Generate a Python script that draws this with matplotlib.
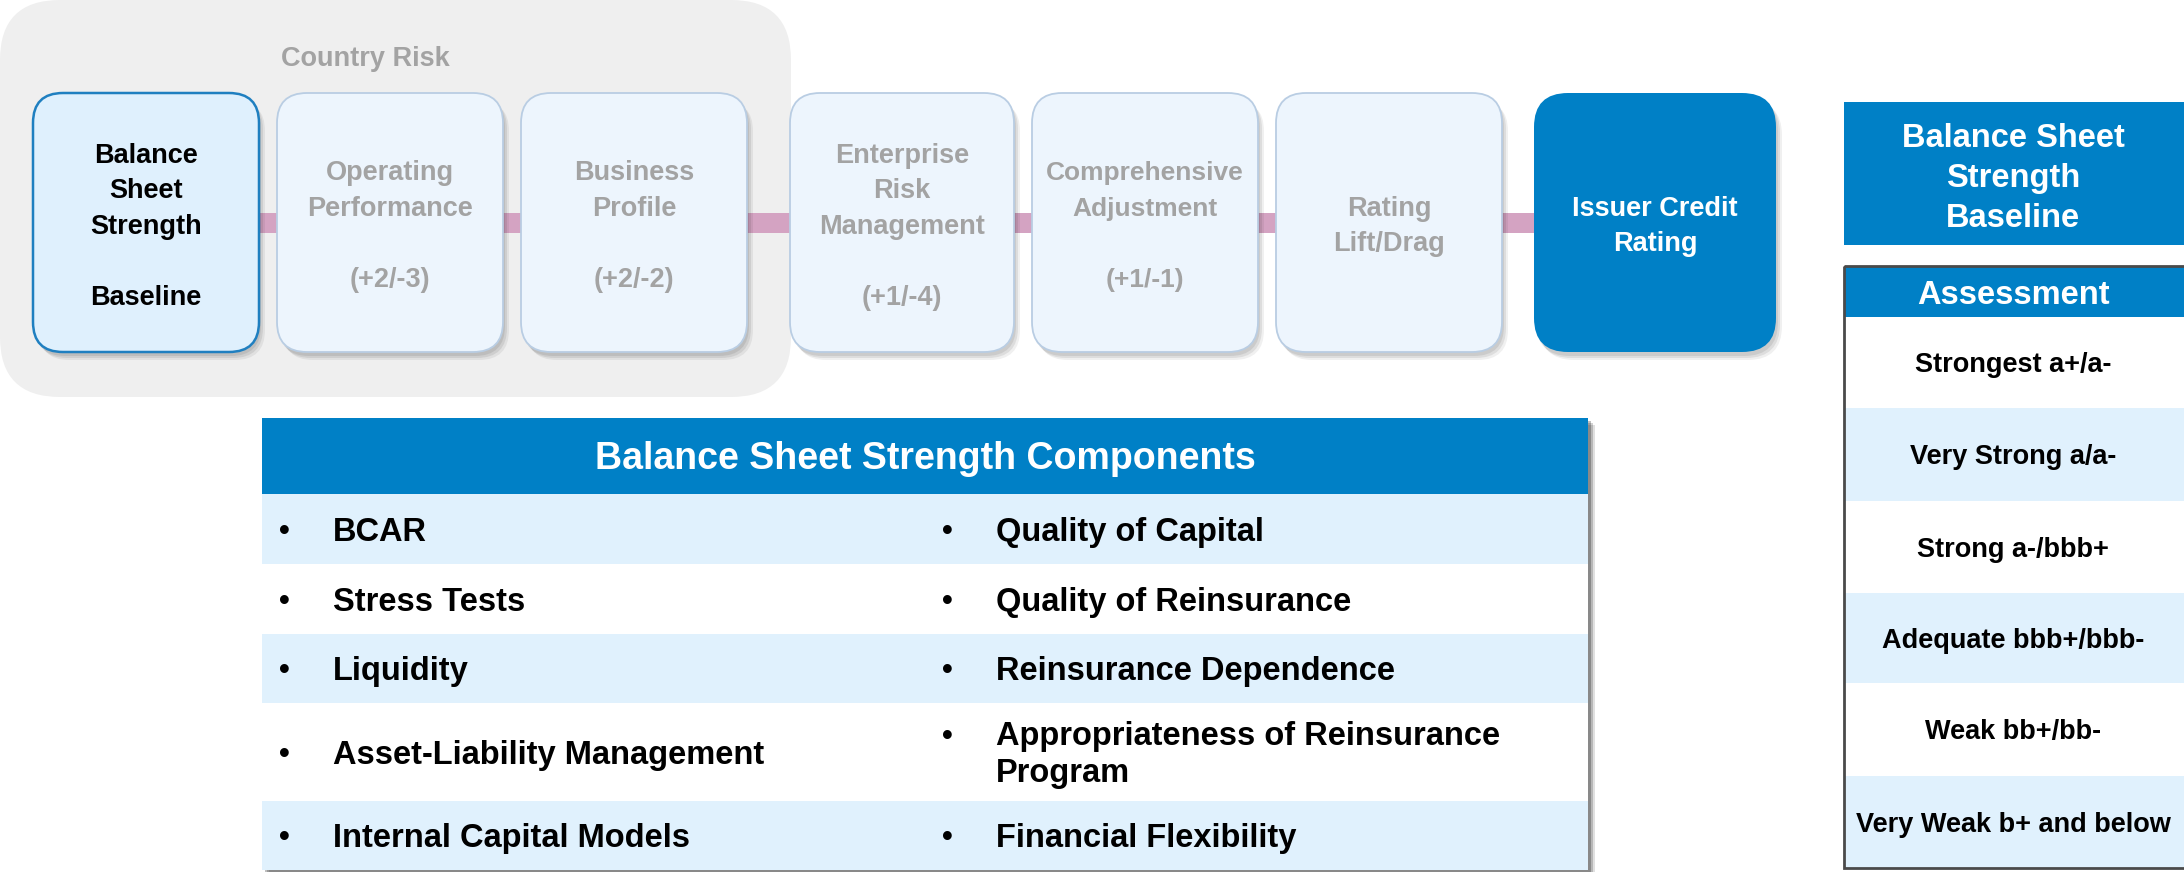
import matplotlib
matplotlib.use('Agg')
import matplotlib.pyplot as plt
from matplotlib.patches import FancyBboxPatch, Rectangle

# ---------------- data (texts) ----------------
country_risk_label = "Country Risk"
step_names = ["Balance\nSheet\nStrength", "Operating\nPerformance", "Business\nProfile",
              "Enterprise\nRisk\nManagement", "Comprehensive\nAdjustment", "Rating\nLift/Drag",
              "Issuer Credit\nRating"]
step_ranges = ["Baseline", "(+2/-3)", "(+2/-2)", "(+1/-4)", "(+1/-1)", "", ""]
components_title = "Balance Sheet Strength Components"
components_left = ["BCAR", "Stress Tests", "Liquidity", "Asset-Liability Management",
                   "Internal Capital Models"]
components_right = ["Quality of Capital", "Quality of Reinsurance", "Reinsurance Dependence",
                    "Appropriateness of Reinsurance\nProgram", "Financial Flexibility"]
baseline_title = "Balance Sheet\nStrength\nBaseline"
assessment_title = "Assessment"
assessment_labels = ["Strongest a+/a-", "Very Strong a/a-", "Strong a-/bbb+",
                     "Adequate bbb+/bbb-", "Weak bb+/bb-", "Very Weak b+ and below"]

# ---------------- style ----------------
FAM = ['Liberation Sans', 'DejaVu Sans']
BG_GRAY = '#efefef'
LIGHT_FILL = '#edf5fd'
LIGHT_EDGE = '#b9cde3'
B1_FILL = '#dff0fd'
B1_EDGE = '#1f7fc0'
DARK_BLUE = '#0080c6'
PINK = '#d4a3c2'
GRAY_TXT = '#a3a3a3'
ROW_BLUE = '#e0f1fd'

W, H = 2184, 872
fig = plt.figure(figsize=(W / 100, H / 100), dpi=100)
ax = fig.add_axes([0, 0, 1, 1])
ax.set_xlim(0, W)
ax.set_ylim(H, 0)
ax.axis('off')


def cap_px(size):
    return 0.716 * size * 100 / 72


def lines_text(lines, cx, cy, size, color, spacing, ha='center', z=10):
    n = len(lines)
    for i, ln in enumerate(lines):
        y = cy + (i - (n - 1) / 2) * spacing
        ax.text(cx, y + cap_px(size) / 2, ln, ha=ha, va='baseline', fontsize=size,
                color=color, family=FAM, weight='bold', zorder=z)


def rbox(x0, y0, w, h, r, fc, ec='none', lw=0, z=2, shadow=True):
    if shadow:
        for off, a in ((6, 0.06), (4, 0.08), (2, 0.08)):
            ax.add_patch(FancyBboxPatch((x0 + off, y0 + off + 2), w, h,
                                        boxstyle=f"round,pad=0,rounding_size={r}",
                                        fc='black', ec='none', alpha=a, zorder=z - 0.5))
    ax.add_patch(FancyBboxPatch((x0, y0), w, h, boxstyle=f"round,pad=0,rounding_size={r}",
                                fc=fc, ec=ec, lw=lw, zorder=z))


# ---------------- top flow ----------------
ax.add_patch(FancyBboxPatch((0, 0), 791, 397, boxstyle="round,pad=0,rounding_size=60",
                            fc=BG_GRAY, ec='none', zorder=0))
lines_text([country_risk_label], 365, 56, 19.5, GRAY_TXT, 0)

box_x = [33, 277, 521, 790, 1032, 1276, 1534]
box_w = [226, 226, 226, 224, 226, 226, 242]
box_top, box_h = 93, 259
mid_y = 224

ax.plot([box_x[0] + 100, box_x[-1] + 100], [223, 223], color=PINK, lw=20 * 0.72,
        solid_capstyle='butt', zorder=1)

for i, (name, rng) in enumerate(zip(step_names, step_ranges)):
    x0, w = box_x[i], box_w[i]
    if i == 0:
        rbox(x0, box_top, w, box_h, 30, B1_FILL, B1_EDGE, 1.8)
        col = 'black'
    elif i == len(step_names) - 1:
        rbox(x0, box_top, w, box_h, 34, DARK_BLUE, 'none', 0)
        col = 'white'
    else:
        rbox(x0, box_top, w, box_h, 30, LIGHT_FILL, LIGHT_EDGE, 1.3)
        col = GRAY_TXT
    lines = name.split('\n')
    if rng:
        lines = lines + ["", rng]
    size = 19.0 if name.startswith("Comprehensive") else 19.5
    lines_text(lines, x0 + w / 2, mid_y, size, col, 35.5)

# ---------------- components table ----------------
tx0, tx1 = 262, 1588
row_edges = [418, 494, 564, 634, 703, 801, 870]
for off, a in ((7, 0.12), (5, 0.18), (3, 0.25)):
    ax.add_patch(Rectangle((tx0 + off, row_edges[0] + off), tx1 - tx0,
                           row_edges[-1] - row_edges[0],
                           fc='black', ec='none', alpha=a, zorder=1))
ax.add_patch(Rectangle((tx0, row_edges[0]), tx1 - tx0, row_edges[1] - row_edges[0],
                       fc=DARK_BLUE, ec='none', zorder=2))
lines_text([components_title], 925, 456, 27, 'white', 0)
for r in range(len(components_left)):
    y0, y1 = row_edges[r + 1], row_edges[r + 2]
    ax.add_patch(Rectangle((tx0, y0), tx1 - tx0, y1 - y0,
                           fc=ROW_BLUE if r % 2 == 0 else 'white', ec='none', zorder=2))
    cy = (y0 + y1) / 2
    lines_text(["•"], 284, cy, 22, 'black', 0, ha='center')
    lines_text([components_left[r]], 333, cy, 23.5, 'black', 0, ha='left')
    lines_text(["•"], 947, cy - (18 if '\n' in components_right[r] else 0), 22, 'black', 0)
    lines_text(components_right[r].split('\n'), 996, cy, 23.5, 'black', 37, ha='left')

# ---------------- right panel ----------------
rx0, rx1 = 1844, 2186
ax.add_patch(Rectangle((rx0, 102), rx1 - rx0, 143, fc=DARK_BLUE, ec='none', zorder=2))
lines_text(baseline_title.split('\n'), 2013, 175, 23.5, 'white', 40)

a_edges = [266, 317, 408, 501, 593, 683, 776, 868]
ax.add_patch(Rectangle((rx0, a_edges[0]), rx1 - rx0, a_edges[1] - a_edges[0],
                       fc=DARK_BLUE, ec='none', zorder=2))
lines_text([assessment_title], 2013, 292, 23.5, 'white', 0)
for r, lab in enumerate(assessment_labels):
    y0, y1 = a_edges[r + 1], a_edges[r + 2]
    ax.add_patch(Rectangle((rx0, y0), rx1 - rx0, y1 - y0,
                           fc='white' if r % 2 == 0 else ROW_BLUE, ec='none', zorder=2))
    lines_text([lab], 2013, (y0 + y1) / 2, 19.5, 'black', 0)
ax.add_patch(Rectangle((rx0, a_edges[0]), rx1 - rx0, a_edges[-1] - a_edges[0],
                       fc='none', ec='#4a4a4a', lw=2.0, zorder=5))

fig.savefig('out.png', dpi=100)
